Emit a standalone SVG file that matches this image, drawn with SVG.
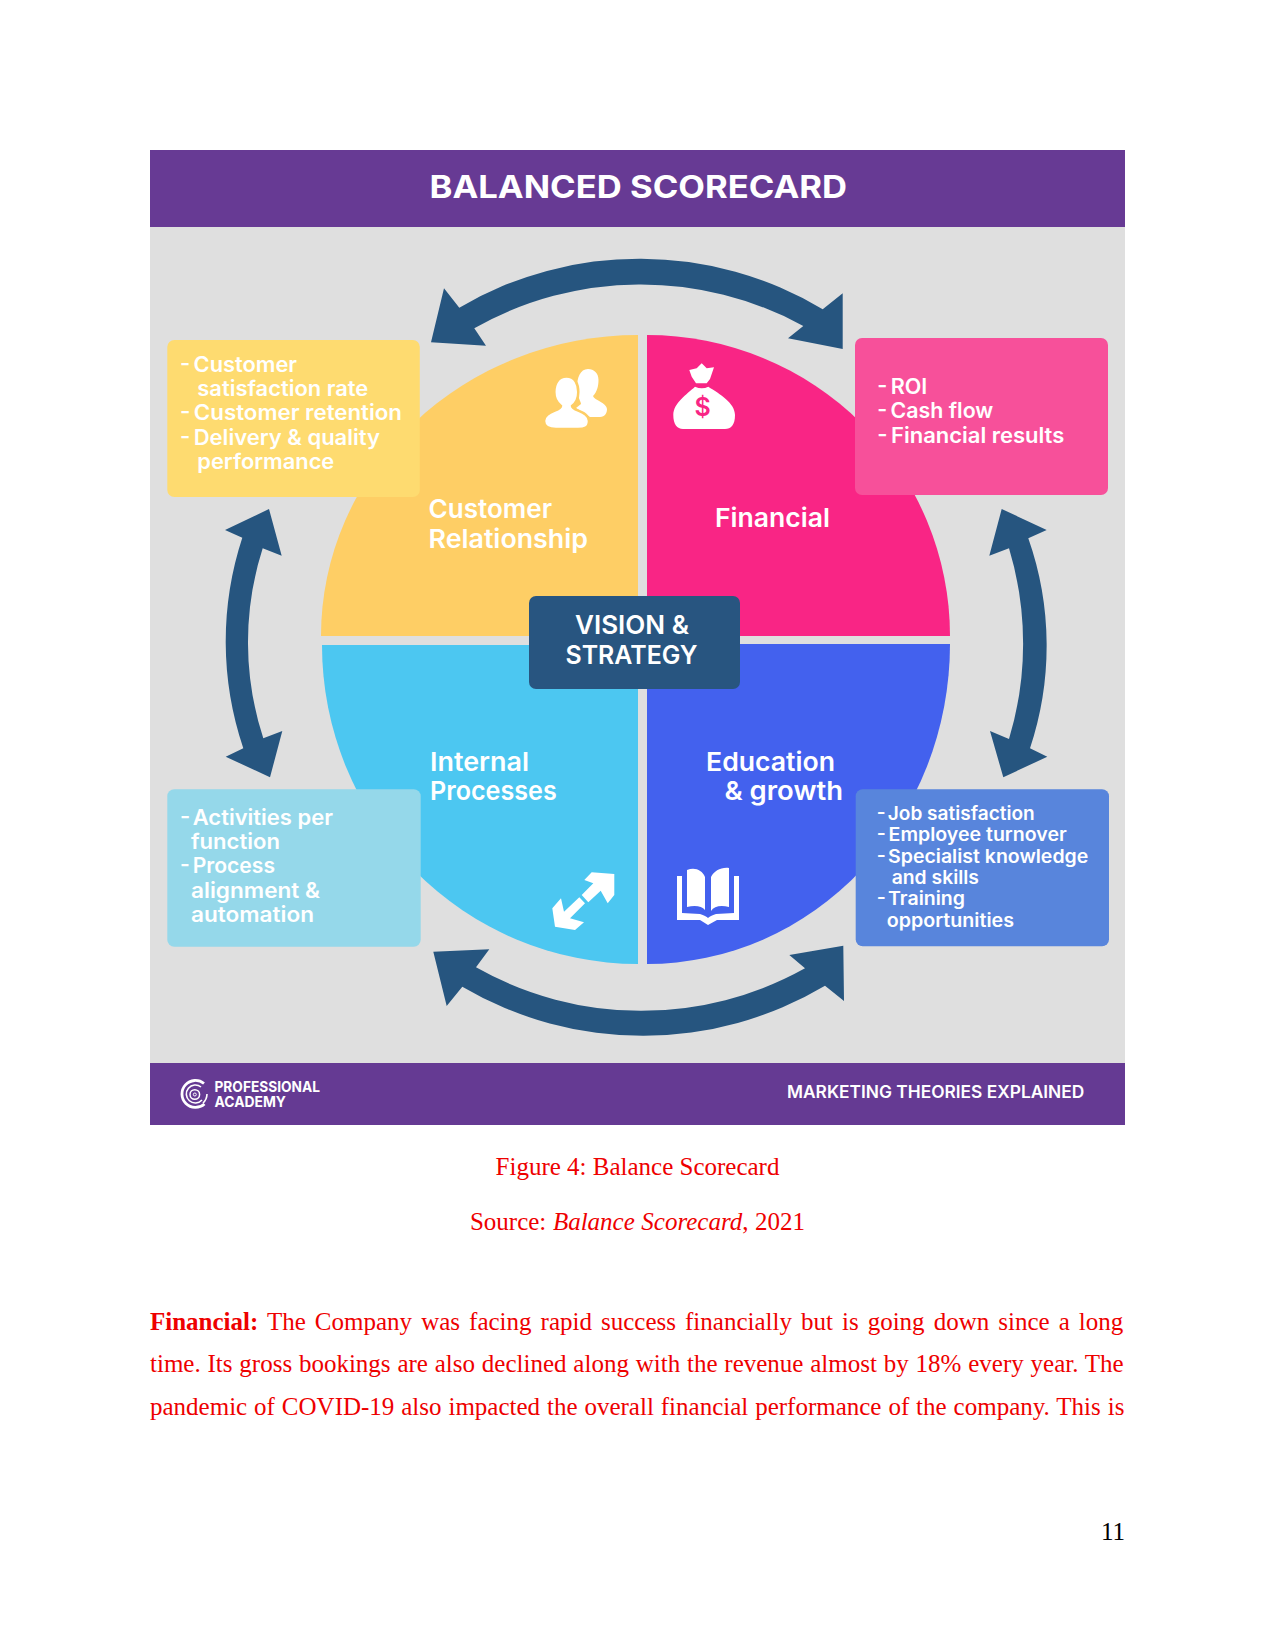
<svg xmlns="http://www.w3.org/2000/svg" width="1275" height="1651" viewBox="0 0 1275 1651">
  <style>
    .card { font-family: "Inter", "Liberation Sans", sans-serif; font-weight: 600; fill: #ffffff; }
    .title { font-size: 31px; font-weight: 700; }
    .head { font-size: 26px; }
    .item { font-size: 21px; }
    .small { font-size: 18.5px; }
    .foot { font-size: 17px; }
    .brand { font-size: 15px; font-weight: 700; }
    .page { font-family: "Liberation Serif", "Times New Roman", serif; font-size: 25px; fill: #ee0000; }
    .arrow { fill: #26557f; }
    .white { fill: #ffffff; }
  </style>

  <rect width="1275" height="1651" fill="#ffffff"/>

  <g id="panel">
    <rect x="150" y="150" width="975" height="975" fill="#dfdfdf"/>
    <rect x="150" y="150" width="975" height="77" fill="#673a94"/>
    <rect x="150" y="1063" width="975" height="62" fill="#653a93"/>
    <text class="card title" x="429.5" y="197.5" textLength="417.5" lengthAdjust="spacingAndGlyphs">BALANCED SCORECARD</text>
  </g>

  <g id="quadrant-customer">
    <path d="M638,636 H321 A317,301 0 0 1 638,335 Z" fill="#fece65"/>
  </g>
  <g id="quadrant-financial">
    <path d="M647,636 H950 A303,301 0 0 0 647,335 Z" fill="#f92585"/>
  </g>
  <g id="quadrant-internal">
    <path d="M638,645 H322 A316,319 0 0 0 638,964 Z" fill="#4cc7f1"/>
  </g>
  <g id="quadrant-education">
    <path d="M647,644 H950 A303,320 0 0 1 647,964 Z" fill="#4361ee"/>
  </g>

  <g id="connectors">
    <path class="arrow" d="M431,342.3 L444,288.3 L459.3,307.7 A356,356 0 0 1 822.7,309.3 L842.7,293.3 L842.7,349 L788,338.3 L803.3,326 A338,338 0 0 0 474.3,328.3 L486,345.7 Z"/>
    <path class="arrow" d="M433.3,951.7 L489.3,949.3 L476,967.3 A336,336 0 0 0 805,968.3 L789.3,955 L843.3,945.7 L844,1001 L825,985.7 A356,356 0 0 1 462.3,986.7 L446.7,1006 Z"/>
    <path class="arrow" d="M269,509 L281.7,555.7 L262.7,548.3 A308,308 0 0 0 263.3,738.3 L282.3,731 L270,777.3 L225.7,756.7 L243.3,748.3 A333,333 0 0 1 242.3,537.7 L225,530 Z"/>
    <path class="arrow" d="M1001.7,509 L1046.7,530 L1028.3,538.3 A324,324 0 0 1 1030,748.3 L1047.3,756.7 L1003.3,777.3 L990,731 L1009,739 A329,329 0 0 0 1009,548.3 L989.3,555.7 Z"/>
  </g>

  <g id="icon-customers">
    <path class="white" d="M588,369 C580,369 577,378 577,388 C577,396 581,402 581,404 L576,408 L590,417 L600,417 C605,417 607,413 607,409 C607,403 594,400 593,396 C597,392 598.5,386 598.5,380 C598.5,373 594,369 588,369 Z"/>
    <path class="white" stroke="#fece65" stroke-width="2.5" d="M566.5,376.5 C558,376.5 554.3,384 554.3,392 C554.3,398 557,403 561,406 C561,411 544,411 544,421 C544,428 551,429 556,429 H578 C584,429 589,428 589,421 C589,411 572,411 572,406 C576,403 578.3,398 578.3,392 C578.3,384 575,376.5 566.5,376.5 Z"/>
  </g>

  <g id="icon-money">
    <path class="white" d="M689.3,370 L696.7,368.3 L701.7,363.3 L706.7,368.3 L714,367.3 L710,379 L706.7,383.3 L696,383.3 L691.7,376.7 Z"/>
    <path class="white" d="M695,386.7 Q702,390 708.3,386.7 C720,394 735,403 735,415 C735,425 731,429 725,429 H683 C677,429 673.3,424 673.3,415 C673.3,403 687,394 695,386.7 Z"/>
    <text x="702.7" y="415.5" text-anchor="middle" style="font-family:'Inter','Liberation Sans',sans-serif;font-size:25px;font-weight:600;fill:#f92585">$</text>
  </g>

  <g id="icon-arrows">
    <path class="white" d="M614.3,874 L591.7,872.3 L584.3,880 L593.3,883.3 L581.7,895 L588.3,902.3 L600.7,890.7 L607.7,903.3 L614.3,895 Z"/>
    <path class="white" d="M561,898.3 L552.3,908.3 L555,926.7 L575,930 L584,922.3 L570,918.3 L585,903.3 L579.3,897.3 L564,911.7 Z"/>
  </g>

  <g id="icon-book">
    <path class="white" d="M687,870 C695,867 702,870 705,877 V910 C702,906 695,905 687,907 Z"/>
    <path class="white" d="M729,868 C721,867 714,871 711,877 V911 C714,906 721,905 729,907 Z"/>
    <path class="white" d="M677,876 H682 V913 L700,914 Q706,916 708,918 Q710,916 716,914 L734,913 V876 H739 V920 H717 L708,925 L700,920 H677 Z"/>
  </g>

  <g id="box-customer">
    <rect x="167.3" y="340" width="252.5" height="157" rx="7" fill="#fedb70"/>
    <g class="card item">
      <text x="180" y="371.5" textLength="117" lengthAdjust="spacingAndGlyphs">- <tspan dx="-2">Customer</tspan></text>
      <text x="197.3" y="396.3" textLength="171" lengthAdjust="spacingAndGlyphs">satisfaction rate</text>
      <text x="180" y="420.3" textLength="222" lengthAdjust="spacingAndGlyphs">- <tspan dx="-2">Customer retention</tspan></text>
      <text x="180" y="445" textLength="200" lengthAdjust="spacingAndGlyphs">- <tspan dx="-2">Delivery &amp; quality</tspan></text>
      <text x="197.3" y="469.3" textLength="137" lengthAdjust="spacingAndGlyphs">performance</text>
    </g>
  </g>

  <g id="box-financial">
    <rect x="855" y="338" width="253" height="157" rx="7" fill="#f7509a"/>
    <g class="card item">
      <text x="877.3" y="393.5" textLength="50" lengthAdjust="spacingAndGlyphs">- <tspan dx="-2">ROI</tspan></text>
      <text x="877.3" y="418" textLength="116" lengthAdjust="spacingAndGlyphs">- <tspan dx="-2">Cash flow</tspan></text>
      <text x="877.3" y="442.5" textLength="187" lengthAdjust="spacingAndGlyphs">- <tspan dx="-2">Financial results</tspan></text>
    </g>
  </g>

  <g id="box-internal">
    <rect x="167.3" y="789.3" width="253.4" height="157.4" rx="7" fill="#95d8ea"/>
    <g class="card item">
      <text x="180" y="825" textLength="153" lengthAdjust="spacingAndGlyphs">- <tspan dx="-3">Activities per</tspan></text>
      <text x="191" y="849" textLength="89" lengthAdjust="spacingAndGlyphs">function</text>
      <text x="180" y="873.3" textLength="95" lengthAdjust="spacingAndGlyphs">- <tspan dx="-2.5">Process</tspan></text>
      <text x="191" y="898" textLength="129" lengthAdjust="spacingAndGlyphs">alignment &amp;</text>
      <text x="191" y="922.3" textLength="123" lengthAdjust="spacingAndGlyphs">automation</text>
    </g>
  </g>

  <g id="box-education">
    <rect x="855.7" y="789.3" width="253.3" height="157" rx="7" fill="#5885dc"/>
    <g class="card small">
      <text x="876.7" y="819.8" textLength="158" lengthAdjust="spacingAndGlyphs">- <tspan dx="-2.5">Job satisfaction</tspan></text>
      <text x="876.7" y="841" textLength="190" lengthAdjust="spacingAndGlyphs">- <tspan dx="-2">Employee turnover</tspan></text>
      <text x="876.7" y="862.5" textLength="211.6" lengthAdjust="spacingAndGlyphs">- <tspan dx="-2.5">Specialist knowledge</tspan></text>
      <text x="891.7" y="884" textLength="87.3" lengthAdjust="spacingAndGlyphs">and skills</text>
      <text x="876.7" y="905" textLength="88.3" lengthAdjust="spacingAndGlyphs">- <tspan dx="-2.5">Training</tspan></text>
      <text x="886.7" y="926.7" textLength="127.3" lengthAdjust="spacingAndGlyphs">opportunities</text>
    </g>
  </g>

  <g id="label-customer" class="card head">
    <text x="428.5" y="518.3" textLength="123.5" lengthAdjust="spacingAndGlyphs">Customer</text>
    <text x="428.5" y="547.7" textLength="159.5" lengthAdjust="spacingAndGlyphs">Relationship</text>
  </g>
  <g id="label-financial" class="card head">
    <text x="715" y="526.7" textLength="115" lengthAdjust="spacingAndGlyphs">Financial</text>
  </g>
  <g id="label-internal" class="card head">
    <text x="430" y="771" textLength="99" lengthAdjust="spacingAndGlyphs">Internal</text>
    <text x="430" y="800.3" textLength="126.7" lengthAdjust="spacingAndGlyphs">Processes</text>
  </g>
  <g id="label-education" class="card head">
    <text x="706" y="771" textLength="129" lengthAdjust="spacingAndGlyphs">Education</text>
    <text x="724.5" y="800.3" textLength="118.5" lengthAdjust="spacingAndGlyphs">&amp; growth</text>
  </g>

  <g id="vision">
    <rect x="529" y="596" width="211" height="93" rx="7" fill="#285580"/>
    <g class="card head">
      <text x="575" y="634.3" textLength="114" lengthAdjust="spacingAndGlyphs">VISION &amp;</text>
      <text x="565.5" y="664" textLength="132" lengthAdjust="spacingAndGlyphs">STRATEGY</text>
    </g>
  </g>

  <g id="footer-logo" fill="none" stroke="#ffffff">
    <path d="M204,1083.5 A13.5,13.5 0 1 0 204.5,1104" stroke-width="2.8"/>
    <path d="M207,1094 A12.5,12.5 0 0 1 203,1103" stroke-width="1.6"/>
    <path d="M201,1087 A9,9 0 1 0 202,1100" stroke-width="1.6"/>
    <circle cx="194.8" cy="1094.5" r="4.8" stroke-width="1.5"/>
    <circle cx="194.8" cy="1094.5" r="1.5" stroke-width="1"/>
  </g>
  <g id="footer-text" class="card">
    <text class="brand" x="214.5" y="1092.3" textLength="105.5" lengthAdjust="spacingAndGlyphs">PROFESSIONAL</text>
    <text class="brand" x="214.5" y="1107.3" textLength="71.5" lengthAdjust="spacingAndGlyphs">ACADEMY</text>
    <text class="foot" x="787" y="1097.7" textLength="297.3" lengthAdjust="spacingAndGlyphs">MARKETING THEORIES EXPLAINED</text>
  </g>

  <g id="caption">
    <text class="page" x="637.5" y="1175" text-anchor="middle">Figure 4: Balance Scorecard</text>
    <text class="page" x="637.5" y="1230" text-anchor="middle" word-spacing="0.3">Source: <tspan font-style="italic">Balance Scorecard</tspan>, 2021</text>
  </g>

  <g id="paragraph">
    <text class="page" x="150" y="1329.5" word-spacing="2.8"><tspan font-weight="700">Financial:</tspan> The Company was facing rapid success financially but is going down since a long</text>
    <text class="page" x="150" y="1372.3" word-spacing="0.57">time. Its gross bookings are also declined along with the revenue almost by 18% every year. The</text>
    <text class="page" x="150" y="1415" word-spacing="0.67">pandemic of COVID-19 also impacted the overall financial performance of the company. This is</text>
  </g>

  <text x="1125" y="1540" text-anchor="end" style="font-family:'Liberation Serif','Times New Roman',serif;font-size:25px;fill:#000000">11</text>
</svg>
